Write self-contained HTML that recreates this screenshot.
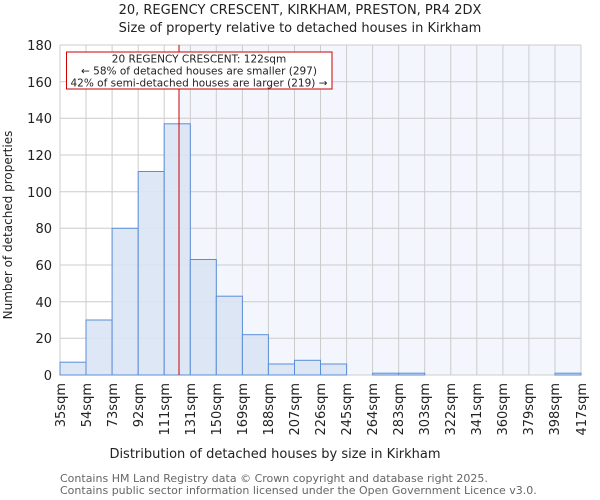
<!DOCTYPE html>
<html><head><style>body{margin:0;background:#fff}svg{display:block}text{font-family:"DejaVu Sans","Liberation Sans",sans-serif}</style></head><body>
<svg width="600" height="500" xmlns="http://www.w3.org/2000/svg">
<rect x="179" y="45" width="402" height="330" fill="#f3f6fd"/>
<g stroke="#cccccc" stroke-width="1">
<line x1="60" y1="45" x2="581" y2="45"/><line x1="60" y1="81.7" x2="581" y2="81.7"/><line x1="60" y1="118.3" x2="581" y2="118.3"/><line x1="60" y1="155" x2="581" y2="155"/><line x1="60" y1="191.7" x2="581" y2="191.7"/><line x1="60" y1="228.3" x2="581" y2="228.3"/><line x1="60" y1="265" x2="581" y2="265"/><line x1="60" y1="301.7" x2="581" y2="301.7"/><line x1="60" y1="338.3" x2="581" y2="338.3"/><line x1="60" y1="375" x2="581" y2="375"/>
<line x1="60" y1="45" x2="60" y2="375"/><line x1="86" y1="45" x2="86" y2="375"/><line x1="112.1" y1="45" x2="112.1" y2="375"/><line x1="138.2" y1="45" x2="138.2" y2="375"/><line x1="164.2" y1="45" x2="164.2" y2="375"/><line x1="190.3" y1="45" x2="190.3" y2="375"/><line x1="216.3" y1="45" x2="216.3" y2="375"/><line x1="242.4" y1="45" x2="242.4" y2="375"/><line x1="268.4" y1="45" x2="268.4" y2="375"/><line x1="294.5" y1="45" x2="294.5" y2="375"/><line x1="320.5" y1="45" x2="320.5" y2="375"/><line x1="346.6" y1="45" x2="346.6" y2="375"/><line x1="372.6" y1="45" x2="372.6" y2="375"/><line x1="398.7" y1="45" x2="398.7" y2="375"/><line x1="424.7" y1="45" x2="424.7" y2="375"/><line x1="450.8" y1="45" x2="450.8" y2="375"/><line x1="476.8" y1="45" x2="476.8" y2="375"/><line x1="502.9" y1="45" x2="502.9" y2="375"/><line x1="528.9" y1="45" x2="528.9" y2="375"/><line x1="555" y1="45" x2="555" y2="375"/><line x1="581" y1="45" x2="581" y2="375"/>
</g>
<g fill="#dae4f4" fill-opacity="0.9" stroke="#5b8ed8" stroke-width="1">
<rect x="60" y="362.2" width="26" height="12.8"/>
<rect x="86" y="320" width="26.1" height="55"/>
<rect x="112.1" y="228.3" width="26.1" height="146.7"/>
<rect x="138.2" y="171.5" width="26" height="203.5"/>
<rect x="164.2" y="123.8" width="26.1" height="251.2"/>
<rect x="190.3" y="259.5" width="26" height="115.5"/>
<rect x="216.3" y="296.2" width="26.1" height="78.8"/>
<rect x="242.4" y="334.7" width="26" height="40.3"/>
<rect x="268.4" y="364" width="26.1" height="11"/>
<rect x="294.5" y="360.3" width="26" height="14.7"/>
<rect x="320.5" y="364" width="26.1" height="11"/>
<rect x="372.6" y="373.2" width="26.1" height="1.8"/>
<rect x="398.7" y="373.2" width="26" height="1.8"/>
<rect x="555" y="373.2" width="26" height="1.8"/>
</g>
<line x1="179" y1="45" x2="179" y2="375" stroke="#cc0000" stroke-width="1"/>
<rect x="66.5" y="52" width="265.5" height="37" fill="#fff" stroke="#cc0000" stroke-width="1"/>
<g font-size="10.5" text-anchor="middle" fill="#222">
<text x="199" y="62.5">20 REGENCY CRESCENT: 122sqm</text>
<text x="199" y="74.5">← 58% of detached houses are smaller (297)</text>
<text x="199" y="86.5">42% of semi-detached houses are larger (219) →</text>
</g>
<g font-size="13" text-anchor="middle" fill="#222">
<text x="300" y="14">20, REGENCY CRESCENT, KIRKHAM, PRESTON, PR4 2DX</text>
<text x="300" y="32">Size of property relative to detached houses in Kirkham</text>
<text x="275" y="458">Distribution of detached houses by size in Kirkham</text>
</g>
<text font-size="12" text-anchor="middle" fill="#222" transform="translate(12,225) rotate(-90)">Number of detached properties</text>
<g font-size="13" text-anchor="end" fill="#222">
<text x="52" y="50">180</text><text x="52" y="87">160</text><text x="52" y="123">140</text><text x="52" y="160">120</text><text x="52" y="197">100</text><text x="52" y="233">80</text><text x="52" y="270">60</text><text x="52" y="307">40</text><text x="52" y="343">20</text><text x="52" y="380">0</text>
</g>
<g font-size="13" text-anchor="end" fill="#222">
<text transform="translate(65,383) rotate(-90)">35sqm</text>
<text transform="translate(91,383) rotate(-90)">54sqm</text>
<text transform="translate(117,383) rotate(-90)">73sqm</text>
<text transform="translate(143,383) rotate(-90)">92sqm</text>
<text transform="translate(169,383) rotate(-90)">111sqm</text>
<text transform="translate(195,383) rotate(-90)">131sqm</text>
<text transform="translate(221,383) rotate(-90)">150sqm</text>
<text transform="translate(247,383) rotate(-90)">169sqm</text>
<text transform="translate(273,383) rotate(-90)">188sqm</text>
<text transform="translate(299,383) rotate(-90)">207sqm</text>
<text transform="translate(325,383) rotate(-90)">226sqm</text>
<text transform="translate(351,383) rotate(-90)">245sqm</text>
<text transform="translate(377,383) rotate(-90)">264sqm</text>
<text transform="translate(403,383) rotate(-90)">283sqm</text>
<text transform="translate(429,383) rotate(-90)">303sqm</text>
<text transform="translate(455,383) rotate(-90)">322sqm</text>
<text transform="translate(481,383) rotate(-90)">341sqm</text>
<text transform="translate(507,383) rotate(-90)">360sqm</text>
<text transform="translate(533,383) rotate(-90)">379sqm</text>
<text transform="translate(559,383) rotate(-90)">398sqm</text>
<text transform="translate(586,383) rotate(-90)">417sqm</text>
</g>
<g font-size="11" fill="#666">
<text x="60" y="482">Contains HM Land Registry data © Crown copyright and database right 2025.</text>
<text x="60" y="494">Contains public sector information licensed under the Open Government Licence v3.0.</text>
</g>
</svg>
</body></html>
